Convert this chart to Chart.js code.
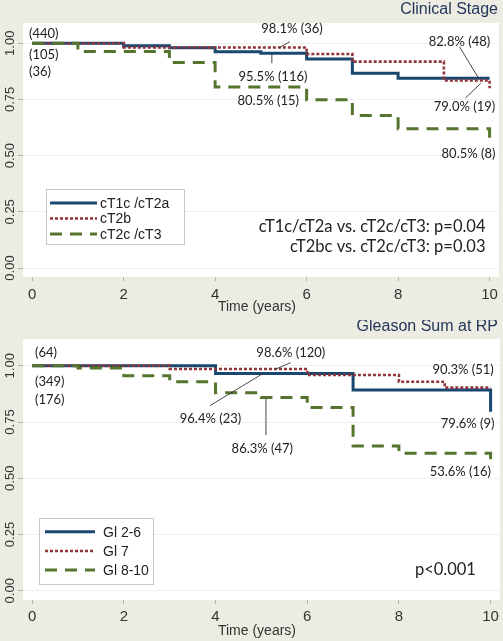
<!DOCTYPE html>
<html>
<head>
<meta charset="utf-8">
<script src="https://cdn.jsdelivr.net/npm/chart.js@4.4.1/dist/chart.umd.min.js"></script>
<style>
html,body{margin:0;padding:0;background:#edece3;}
#wrap{position:relative;width:503px;height:641px;overflow:hidden;}
canvas{position:absolute;left:0;display:block;}
#c1{top:0;}
#c2{top:320px;}
</style>
</head>
<body>
<div id="wrap">
  <canvas id="c1" width="503" height="320"></canvas>
  <canvas id="c2" width="503" height="321"></canvas>
</div>
<script>
// axis ticks
var xTicks = [0, 2, 4, 6, 8, 10];
var yTicks = [0, 0.25, 0.5, 0.75, 1];
var yTickLabels = ['0.00', '0.25', '0.50', '0.75', '1.00'];

// Clinical stage - Kaplan-Meier steps (time in years, survival)
var stageNames = ['cT1c /cT2a', 'cT2b', 'cT2c /cT3'];
var stageT1Time = [0, 2, 3, 4, 5, 6, 7, 8, 10];
var stageT1Surv = [1, 0.989, 0.98, 0.962, 0.955, 0.93, 0.867, 0.844, 0.844];
var stageT2bTime = [0, 2, 6, 7, 9, 10];
var stageT2bSurv = [1, 0.981, 0.952, 0.918, 0.834, 0.80];
var stageT2cTime = [0, 1, 3, 4, 6, 7, 8, 10];
var stageT2cSurv = [1, 0.963, 0.914, 0.805, 0.748, 0.678, 0.619, 0.58];

// Gleason sum at RP
var gleasonNames = ['Gl 2-6', 'Gl 7', 'Gl 8-10'];
var gl26Time = [0, 4, 7, 10];
var gl26Surv = [1, 0.966, 0.892, 0.796];
var gl7Time = [0, 3, 6, 8, 9, 10];
var gl7Surv = [1, 0.986, 0.959, 0.929, 0.903, 0.903];
var gl810Time = [0, 1, 2, 3, 4, 5, 6, 7, 8, 10];
var gl810Surv = [1, 0.99, 0.956, 0.929, 0.88, 0.859, 0.815, 0.643, 0.611, 0.575];

// text notes: [text, x (years), y (survival), align]
var stageNotes = [
  ['(440)', -0.07, 1.041, 'left'],
  ['(105)', -0.07, 0.948, 'left'],
  ['(36)', -0.07, 0.872, 'left'],
  ['98.1% (36)', 5.01, 1.064, 'left'],
  ['95.5% (116)', 4.51, 0.850, 'left'],
  ['80.5% (15)', 4.49, 0.745, 'left'],
  ['82.8% (48)', 8.67, 1.007, 'left'],
  ['79.0% (19)', 8.78, 0.716, 'left'],
  ['80.5% (8)', 8.95, 0.507, 'left']
];
var stageLeaders = [
  [5.40, 0.980, 5.635, 1.007],
  [5.24, 0.958, 5.24, 0.911],
  [9.34, 0.985, 9.76, 0.844],
  [9.47, 0.756, 9.81, 0.822]
];
var stagePvals = ['cT1c/cT2a vs. cT2c/cT3: p=0.04', 'cT2bc vs. cT2c/cT3: p=0.03'];

var gleasonNotes = [
  ['(64)', 0.06, 1.058, 'left'],
  ['(349)', 0.06, 0.929, 'left'],
  ['(176)', 0.06, 0.848, 'left'],
  ['98.6% (120)', 4.89, 1.058, 'left'],
  ['96.4% (23)', 3.22, 0.766, 'left'],
  ['86.3% (47)', 4.35, 0.633, 'left'],
  ['90.3% (51)', 8.73, 0.981, 'left'],
  ['79.6% (9)', 8.91, 0.741, 'left'],
  ['53.6% (16)', 8.67, 0.529, 'left']
];
var gleasonLeaders = [
  [3.88, 0.823, 5.03, 0.965],
  [5.29, 0.983, 5.64, 1.014],
  [5.10, 0.855, 5.10, 0.692]
];
var gleasonPvals = ['p<0.001'];

var styles = [
  {color: '#1a476f', dash: [], width: 3},
  {color: '#90353b', dash: [3, 2], width: 2.6},
  {color: '#55752f', dash: [12, 8], width: 3}
];

var noteFont = '13px Lato, "Open Sans", sans-serif';
var axisFont = 'Liberation Sans, Arial, sans-serif';

function panelPlugin(p) {
  return {
    id: 'panel',
    beforeDraw: function(chart) {
      var ctx = chart.ctx, a = chart.chartArea;
      ctx.save();
      ctx.fillStyle = '#edece3';
      ctx.fillRect(0, 0, chart.width, chart.height);
      ctx.fillStyle = '#ffffff';
      ctx.fillRect(a.left, a.top, a.right - a.left, a.bottom - a.top);
      ctx.restore();
    },
    afterDraw: function(chart) {
      var ctx = chart.ctx, xs = chart.scales.x, ys = chart.scales.y;
      ctx.save();

      // title
      ctx.fillStyle = '#23365a';
      ctx.font = '16px ' + axisFont;
      ctx.textAlign = 'right';
      ctx.textBaseline = 'middle';
      ctx.fillText(p.title, 498, p.titleY);

      // y tick labels, rotated
      ctx.fillStyle = '#333';
      ctx.font = '13px ' + axisFont;
      ctx.textAlign = 'center';
      yTicks.forEach(function(v, i) {
        ctx.save();
        ctx.translate(10, ys.getPixelForValue(v));
        ctx.rotate(-Math.PI / 2);
        ctx.fillText(yTickLabels[i], 0, 0);
        ctx.restore();
      });

      // x title
      ctx.font = '14px ' + axisFont;
      ctx.fillText('Time (years)', 257, p.xTitleY);

      // leaders
      ctx.strokeStyle = '#333';
      ctx.lineWidth = 0.9;
      p.leaders.forEach(function(l) {
        ctx.beginPath();
        ctx.moveTo(xs.getPixelForValue(l[0]), ys.getPixelForValue(l[1]));
        ctx.lineTo(xs.getPixelForValue(l[2]), ys.getPixelForValue(l[3]));
        ctx.stroke();
      });

      // notes
      ctx.fillStyle = '#222';
      ctx.font = noteFont;
      p.notes.forEach(function(n) {
        ctx.textAlign = n[3];
        ctx.fillText(n[0], xs.getPixelForValue(n[1]), ys.getPixelForValue(n[2]));
      });

      // p values
      ctx.font = p.pFont;
      ctx.textAlign = 'right';
      p.pvals.forEach(function(t, i) {
        ctx.fillText(t, xs.getPixelForValue(p.pX), ys.getPixelForValue(p.pY[i]));
      });

      // legend
      var L = p.legend;
      ctx.fillStyle = '#fff';
      ctx.fillRect(L.x, L.y, L.w, L.h);
      ctx.strokeStyle = '#c9c9c4';
      ctx.lineWidth = 1;
      ctx.strokeRect(L.x + 0.5, L.y + 0.5, L.w, L.h);
      ctx.font = '14px ' + axisFont;
      ctx.textAlign = 'left';
      chart.data.datasets.forEach(function(ds, i) {
        var yy = L.rows[i];
        ctx.save();
        ctx.strokeStyle = ds.borderColor;
        ctx.lineWidth = ds.borderWidth;
        ctx.setLineDash(ds.borderDash);
        ctx.beginPath();
        ctx.moveTo(L.lx0, yy);
        ctx.lineTo(L.lx1, yy);
        ctx.stroke();
        ctx.restore();
        ctx.fillStyle = '#222';
        ctx.fillText(ds.label, L.tx, yy + 1);
      });

      ctx.restore();
    }
  };
}

function makeChart(id, p) {
  var datasets = p.series.map(function(s, i) {
    return {
      label: p.names[i],
      data: s[0].map(function(t, j) { return {x: t, y: s[1][j]}; }),
      borderColor: styles[i].color,
      borderWidth: styles[i].width,
      borderDash: styles[i].dash,
      borderCapStyle: 'butt',
      borderJoinStyle: 'miter',
      stepped: true,
      pointRadius: 0,
      fill: false,
      order: 3 - i
    };
  });
  return new Chart(document.getElementById(id), {
    type: 'line',
    data: {datasets: datasets},
    options: {
      responsive: false,
      animation: false,
      events: [],
      layout: {padding: {left: 0, right: 3, top: p.padTop, bottom: 0}},
      plugins: {legend: {display: false}, tooltip: {enabled: false}},
      scales: {
        x: {
          type: 'linear', min: -0.2, max: 10.2,
          afterBuildTicks: function(sc) { sc.ticks = xTicks.map(function(v) { return {value: v}; }); },
          afterFit: function(sc) { sc.height = p.xHeight; },
          grid: {drawOnChartArea: false, tickLength: 4, tickColor: '#b4b4ac'},
          border: {display: false},
          ticks: {padding: p.xPad, color: '#333', maxRotation: 0, font: {family: axisFont, size: 15}}
        },
        y: {
          type: 'linear', min: p.yMin, max: p.yMax,
          afterBuildTicks: function(sc) { sc.ticks = yTicks.map(function(v) { return {value: v}; }); },
          afterFit: function(sc) { sc.width = 23; },
          grid: {color: '#f0f0ec', tickLength: 5, tickColor: '#b4b4ac'},
          border: {display: false},
          ticks: {display: false}
        }
      }
    },
    plugins: [panelPlugin(p)]
  });
}

makeChart('c1', {
  title: 'Clinical Stage', titleY: 9.5, xTitleY: 307,
  names: stageNames,
  series: [[stageT1Time, stageT1Surv], [stageT2bTime, stageT2bSurv], [stageT2cTime, stageT2cSurv]],
  yMin: -0.04, yMax: 1.09, padTop: 23, xHeight: 43, xPad: 5,
  notes: stageNotes, leaders: stageLeaders,
  pvals: stagePvals, pX: 9.91, pY: [0.185, 0.093], pFont: '16.5px Lato, "Open Sans", sans-serif',
  legend: {x: 46, y: 189, w: 138, h: 55, rows: [203, 218.5, 234], lx0: 50, lx1: 97, tx: 100}
});

makeChart('c2', {
  title: 'Gleason Sum at RP', titleY: 6.7, xTitleY: 310.7,
  names: gleasonNames,
  series: [[gl26Time, gl26Surv], [gl7Time, gl7Surv], [gl810Time, gl810Surv]],
  yMin: -0.041, yMax: 1.119, padTop: 19, xHeight: 41, xPad: 4,
  notes: gleasonNotes, leaders: gleasonLeaders,
  pvals: gleasonPvals, pX: 9.68, pY: [0.092], pFont: '16.5px Lato, "Open Sans", sans-serif',
  legend: {x: 39, y: 198, w: 114, h: 66, rows: [211.7, 231, 250], lx0: 45, lx1: 95, tx: 103}
});
</script>
</body>
</html>
